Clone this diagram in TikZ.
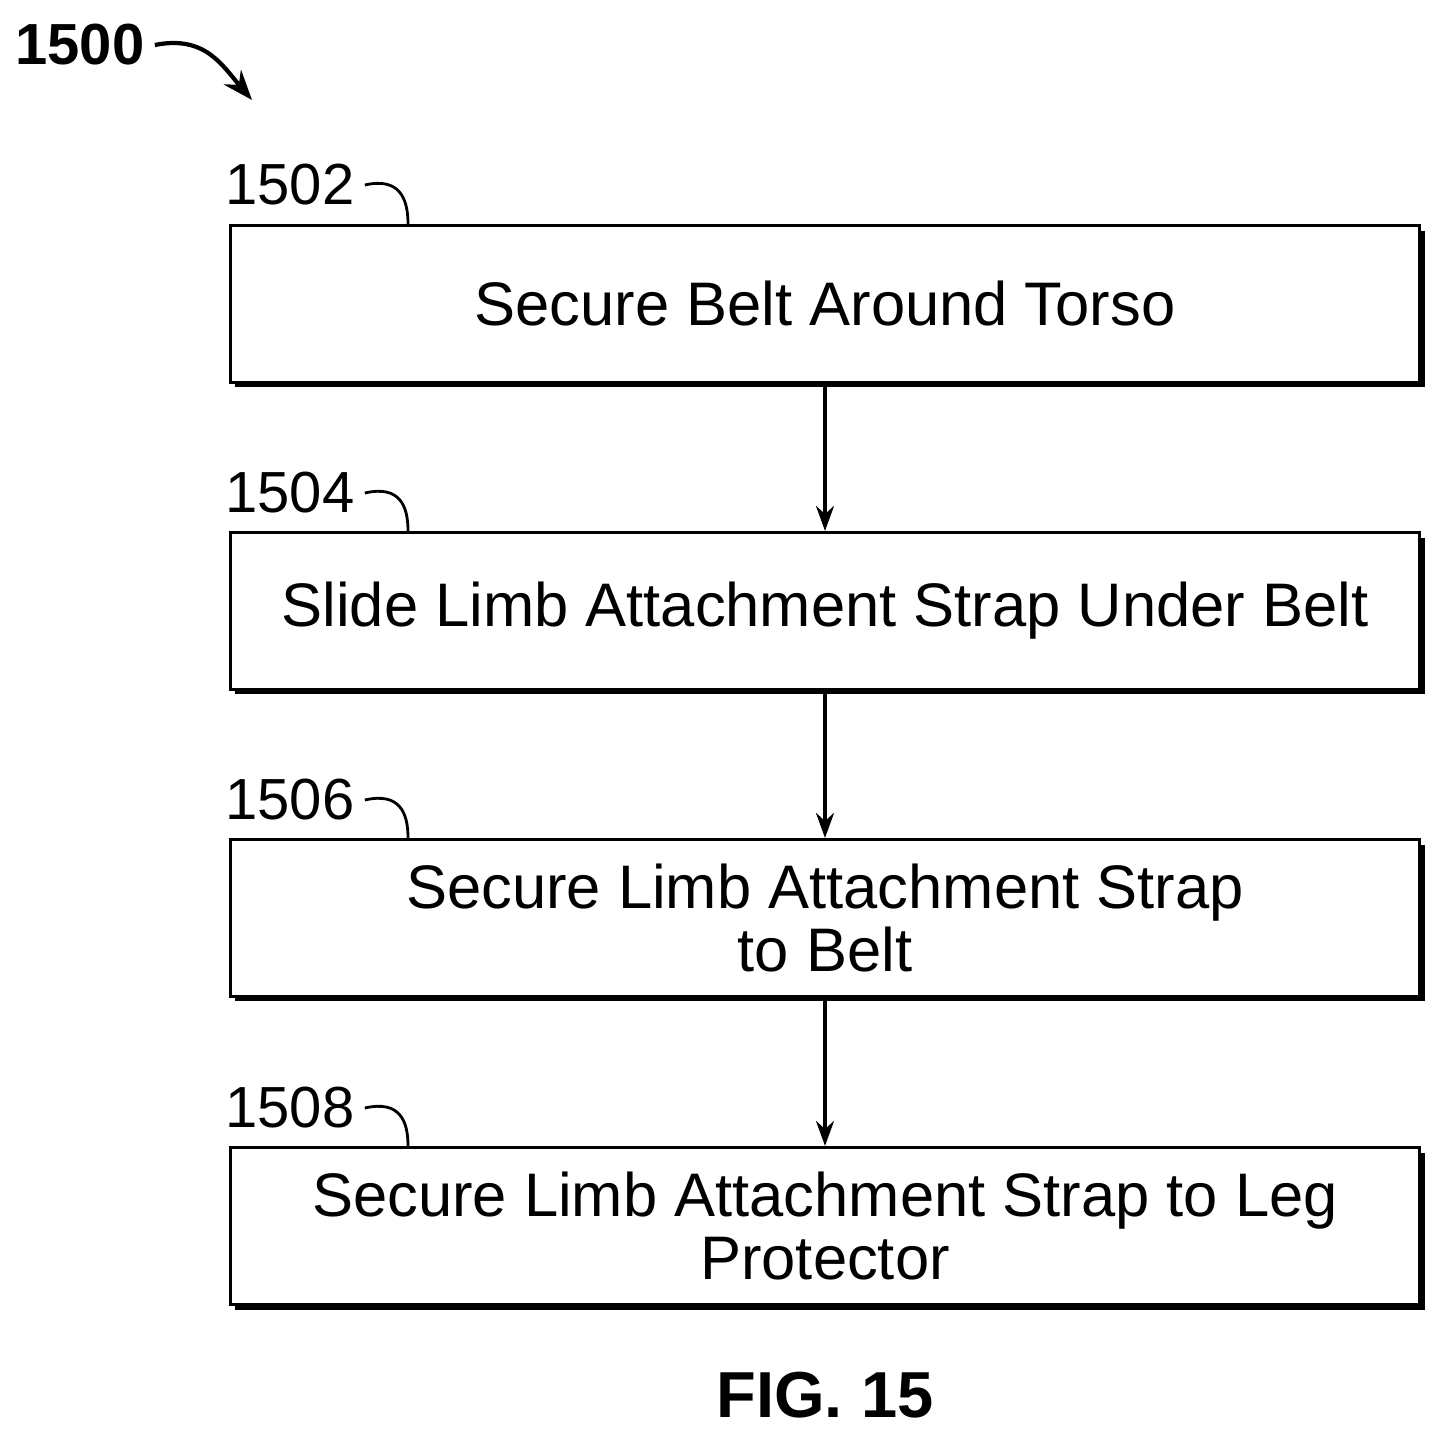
\documentclass[tikz,border=0pt]{standalone}
\usepackage{fontspec}
\setmainfont{Liberation Sans}
\usetikzlibrary{positioning,arrows.meta,shadows}
\begin{document}
\begin{tikzpicture}[x=0.02cm,y=-0.02cm,
            arrowstyle/.style={-{Stealth[length=5mm, width=3.6mm]}, line width=2pt},
            refstyle/.style={line width=1.6pt}]
            % A box style
            \tikzstyle{stepbox} = [draw, rectangle, fill=white, line width=1.8pt, text centered, align=center,
              minimum width=23.8cm, minimum height=3.14cm, font=\fontsize{35}{36}\selectfont,
              drop shadow={fill=black, opacity=1, shadow xshift=0.1cm, shadow yshift=-0.1cm}]
            \tikzstyle{reflabel} = [font=\fontsize{33}{36}\selectfont, inner sep=0pt]
            \useasboundingbox (0,0) rectangle (1449,1439);
            % Define the nodes
            \node (S1) [stepbox] at (825,304) {Secure Belt Around Torso};
            \node (S2) [stepbox] at (825,611) {Slide Limb Attachment Strap Under Belt};
            \node (S3) [stepbox] at (825,918) {Secure Limb Attachment Strap\\to Belt};
            \node (S4) [stepbox] at (825,1226) {Secure Limb Attachment Strap to Leg\\Protector};
            \node (L1) [reflabel] at (290,185) {1502};
            \node (L2) [reflabel] at (290,493) {1504};
            \node (L3) [reflabel] at (290,800) {1506};
            \node (L4) [reflabel] at (290,1108) {1508};
            \node (F) [font=\bfseries\fontsize{37}{40}\selectfont] at (825,1395) {FIG. 15};
            \node (T) [font=\bfseries\fontsize{33}{36}\selectfont, inner sep=0pt] at (80,45) {1500};
            \coordinate (Tend) at (252,100);

            % Reference leaders
            \foreach \i in {1,2,3,4}
              \draw [refstyle] (L\i.east) ++(10,0) .. controls +(35,-8) and +(0,-25) .. (S\i.north west -| 408,0) ;
            \draw [-{Stealth[length=6mm, width=4.5mm]}, line width=2.4pt] (T.east) ++(10,0) .. controls +(50,-10) and +(-30,-35) .. (Tend);

            % Draw the arrows
            \draw [arrowstyle] (S1) -- (S2);
            \draw [arrowstyle] (S2) -- (S3);
            \draw [arrowstyle] (S3) -- (S4);
        \end{tikzpicture}
\end{document}
